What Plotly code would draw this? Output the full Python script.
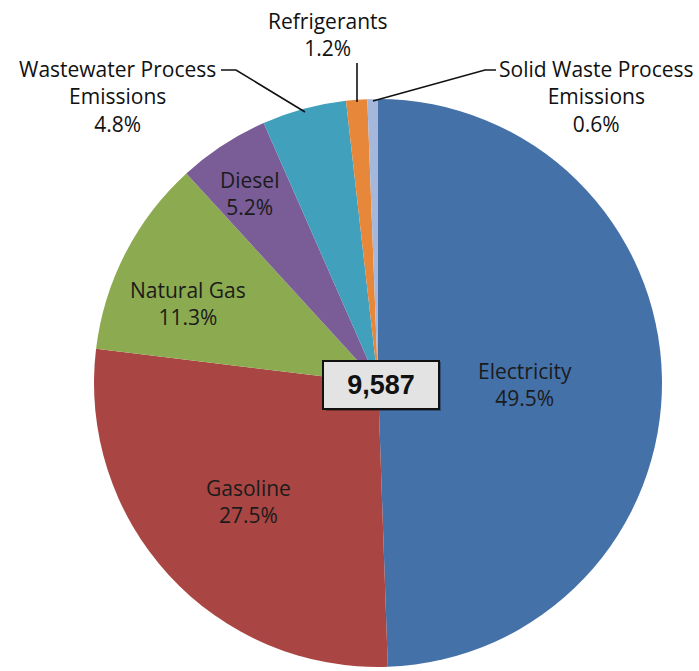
import plotly.graph_objects as go

W, H = 699, 671

categories = ["Electricity", "Gasoline", "Natural Gas", "Diesel",
              "Wastewater Process Emissions", "Refrigerants",
              "Solid Waste Process Emissions"]
shares = [49.5, 27.5, 11.3, 5.2, 4.8, 1.2, 0.6]
colors = ["#4571A9", "#A94542", "#8CAA4F", "#7A5C96", "#41A0BB", "#E6873A", "#A5B8DB"]
total_label = "9,587"

# label text lines (category display + percent)
label_lines = {
    "Electricity": "Electricity",
    "Gasoline": "Gasoline",
    "Natural Gas": "Natural Gas",
    "Diesel": "Diesel",
    "Wastewater Process Emissions": "Wastewater Process<br>Emissions",
    "Refrigerants": "Refrigerants",
    "Solid Waste Process Emissions": "Solid Waste Process<br>Emissions",
}
# label centre positions in pixels (layout)
label_pos = {
    "Electricity": (525, 384),
    "Gasoline": (248, 501),
    "Natural Gas": (188, 303),
    "Diesel": (249, 193),
    "Wastewater Process Emissions": (117, 96),
    "Refrigerants": (328, 34),
    "Solid Waste Process Emissions": (596, 96),
}
inside = {"Electricity", "Gasoline", "Natural Gas", "Diesel"}

cx, cy, r = 378, 383, 284

def px(x):
    return x / W

def py(y):
    return 1 - y / H

fig = go.Figure(go.Pie(
    labels=categories,
    values=shares,
    marker=dict(colors=colors, line=dict(width=0)),
    sort=False,
    direction="clockwise",
    rotation=0,
    textinfo="none",
    hoverinfo="label+percent",
    showlegend=False,
    domain=dict(x=[px(cx - r), px(cx + r)], y=[py(cy + r), py(cy - r)]),
))

annotations = []
for cat, val in zip(categories, shares):
    x, y = label_pos[cat]
    annotations.append(dict(
        x=px(x), y=py(y), xref="paper", yref="paper",
        text=f"{label_lines[cat]}<br>{val}%",
        showarrow=False, xanchor="center", yanchor="middle",
        font=dict(family="Open Sans", size=21,
                  color="#1b1b1b" if cat in inside else "#111111"),
    ))

annotations.append(dict(
    x=px(381), y=py(385), xref="paper", yref="paper",
    text=f"<b>{total_label}</b>", showarrow=False,
    xanchor="center", yanchor="middle",
    font=dict(family="Liberation Sans", size=27, color="#111111"),
    bgcolor="#e3e3e3", bordercolor="#111111", borderwidth=2,
    width=112, height=44,
))

def path(points):
    return "M " + " L ".join(f"{px(a)},{py(b)}" for a, b in points)

shapes = [
    # shadow for the total box
    dict(type="rect", xref="paper", yref="paper",
         x0=px(326), x1=px(441), y0=py(411), y1=py(362),
         fillcolor="rgba(0,0,0,0.3)", line=dict(width=0), layer="above"),
    dict(type="path", xref="paper", yref="paper",
         path=path([(221, 70), (236, 70), (305, 112)]),
         line=dict(color="#111111", width=1.6)),
    dict(type="path", xref="paper", yref="paper",
         path=path([(357, 63), (357, 102)]),
         line=dict(color="#111111", width=1.6)),
    dict(type="path", xref="paper", yref="paper",
         path=path([(373, 101), (485, 70), (496, 70)]),
         line=dict(color="#111111", width=1.6)),
]

fig.update_layout(
    width=W, height=H,
    margin=dict(l=0, r=0, t=0, b=0),
    paper_bgcolor="white", plot_bgcolor="white",
    annotations=annotations, shapes=shapes,
)

fig.write_html("out.html")
